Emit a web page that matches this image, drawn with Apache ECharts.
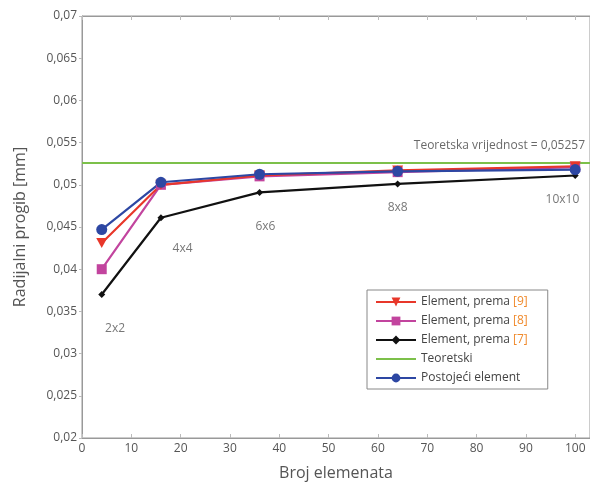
<!DOCTYPE html>
<html>
<head>
<meta charset="utf-8">
<script src="https://cdn.jsdelivr.net/npm/echarts@6/dist/echarts.min.js"></script>
<style>
  html, body { margin: 0; padding: 0; background: #fff; }
  #chart { width: 590px; height: 486px; }
</style>
</head>
<body>
<div id="chart"></div>
<script>
// broj elemenata (2x2, 4x4, 6x6, 8x8, 10x10)
const elements = [4, 16, 36, 64, 100];

const prema9 = [0.0431, 0.0500, 0.0511, 0.0517, 0.0522];
const prema8 = [0.0400, 0.0500, 0.0510, 0.0515, 0.0521];
const prema7 = [0.0370, 0.0461, 0.0491, 0.0501, 0.0511];
const postojeci = [0.0447, 0.0503, 0.05125, 0.0516, 0.0518];
const teoretski = 0.05257;

// oznake mreze i gdje stoje (u jedinicama osi)
const meshLabels = ['2x2', '4x4', '6x6', '8x8', '10x10'];
const meshLabelX = [6.7, 20.4, 37.2, 64, 97.4];
const meshLabelY = [0.0330, 0.0424, 0.0450, 0.0473, 0.0483];

const font = '"Open Sans", "DejaVu Sans", sans-serif';
const textColor = '#555';

const zip = (xs, ys) => xs.map((x, i) => [x, ys[i]]);

const legendNames = [
  'Element, prema [9]',
  'Element, prema [8]',
  'Element, prema [7]',
  'Teoretski',
  'Postojeći element'
];

const chart = echarts.init(document.getElementById('chart'), null, {renderer: 'canvas'});

chart.setOption({
  animation: false,
  textStyle: {fontFamily: font},
  grid: {
    left: 82, right: 0, top: 16, bottom: 46,
    show: true, borderColor: '#999', borderWidth: 1, backgroundColor: 'transparent'
  },
  legend: {
    data: legendNames.map(n => (n === 'Teoretski' ? {name: n, itemStyle: {opacity: 0}} : n)),
    orient: 'vertical',
    left: 367,
    top: 290,
    padding: [6, 20, 5, 8],
    itemWidth: 40,
    itemHeight: 11,
    itemGap: 7,
    borderColor: '#888',
    borderWidth: 1,
    backgroundColor: '#fff',
    textStyle: {
      fontFamily: font, fontSize: 12, color: '#444',
      rich: {ref: {fontFamily: font, fontSize: 12, color: '#f08a2c'}}
    },
    formatter: name => {
      const m = name.match(/^(.*)(\[\d+\])$/);
      return m ? m[1] + '{ref|' + m[2] + '}' : name;
    }
  },
  xAxis: [{
    type: 'value',
    min: 0, max: 103, interval: 10,
    name: 'Broj elemenata',
    nameLocation: 'middle',
    nameGap: 27,
    nameTextStyle: {fontFamily: font, fontSize: 16, color: '#555'},
    axisLine: {lineStyle: {color: '#999'}},
    axisTick: {inside: true, length: 4, lineStyle: {color: '#bbb'}},
    axisLabel: {
      color: textColor, fontSize: 12, margin: 5, showMaxLabel: false,
      formatter: v => (v % 10 === 0 ? String(v) : '')
    },
    splitLine: {show: false}
  }, {
    type: 'value',
    position: 'top',
    min: 0, max: 103, interval: 10,
    axisLine: {lineStyle: {color: '#999'}},
    axisTick: {inside: true, length: 4, lineStyle: {color: '#bbb'}},
    axisLabel: {show: false},
    splitLine: {show: false}
  }],
  yAxis: {
    type: 'value',
    min: 0.02, max: 0.07, interval: 0.005,
    name: 'Radijalni progib [mm]',
    nameLocation: 'middle',
    nameGap: 54,
    nameTextStyle: {fontFamily: font, fontSize: 16, color: '#555'},
    axisLine: {show: true, lineStyle: {color: '#999'}},
    axisTick: {show: true, length: 3, lineStyle: {color: '#bbb'}},
    axisLabel: {
      color: textColor, fontSize: 12, margin: 5,
      formatter: v => String(+v.toFixed(3)).replace('.', ',')
    },
    splitLine: {show: false}
  },
  series: [
    {
      name: 'Element, prema [7]',
      type: 'line',
      data: zip(elements, prema7),
      symbol: 'diamond',
      symbolSize: 7,
      color: '#111',
      lineStyle: {width: 2.2}
    },
    {
      name: 'Teoretski',
      type: 'line',
      data: [[0, teoretski], [103, teoretski]],
      symbol: 'none',
      color: '#7cc04a',
      lineStyle: {width: 2}
    },
    {
      name: 'Element, prema [8]',
      type: 'line',
      data: zip(elements, prema8),
      symbol: 'rect',
      symbolSize: 10,
      color: '#c2449e',
      lineStyle: {width: 2.2}
    },
    {
      name: 'Element, prema [9]',
      type: 'line',
      data: zip(elements, prema9),
      symbol: 'path://M0,0 L10,0 L5,9 Z',
      symbolSize: [11, 10],
      color: '#e8372a',
      lineStyle: {width: 2.2}
    },
    {
      name: 'Postojeći element',
      type: 'line',
      data: zip(elements, postojeci),
      symbol: 'circle',
      symbolSize: 11,
      color: '#2d47a3',
      lineStyle: {width: 2.2}
    },
    {
      type: 'scatter',
      silent: true,
      symbolSize: 0,
      data: meshLabels.map((t, i) => ({name: t, value: [meshLabelX[i], meshLabelY[i]]})),
      label: {
        show: true, position: 'inside', formatter: '{b}',
        fontFamily: font, fontSize: 12, color: textColor
      }
    },
    {
      type: 'scatter',
      silent: true,
      symbolSize: 0,
      data: [{name: 'Teoretska vrijednost = 0,05257', value: [102, 0.05465]}],
      label: {
        show: true, position: 'left', distance: 0, formatter: '{b}',
        fontFamily: font, fontSize: 12, color: '#444'
      }
    }
  ]
});
</script>
</body>
</html>
